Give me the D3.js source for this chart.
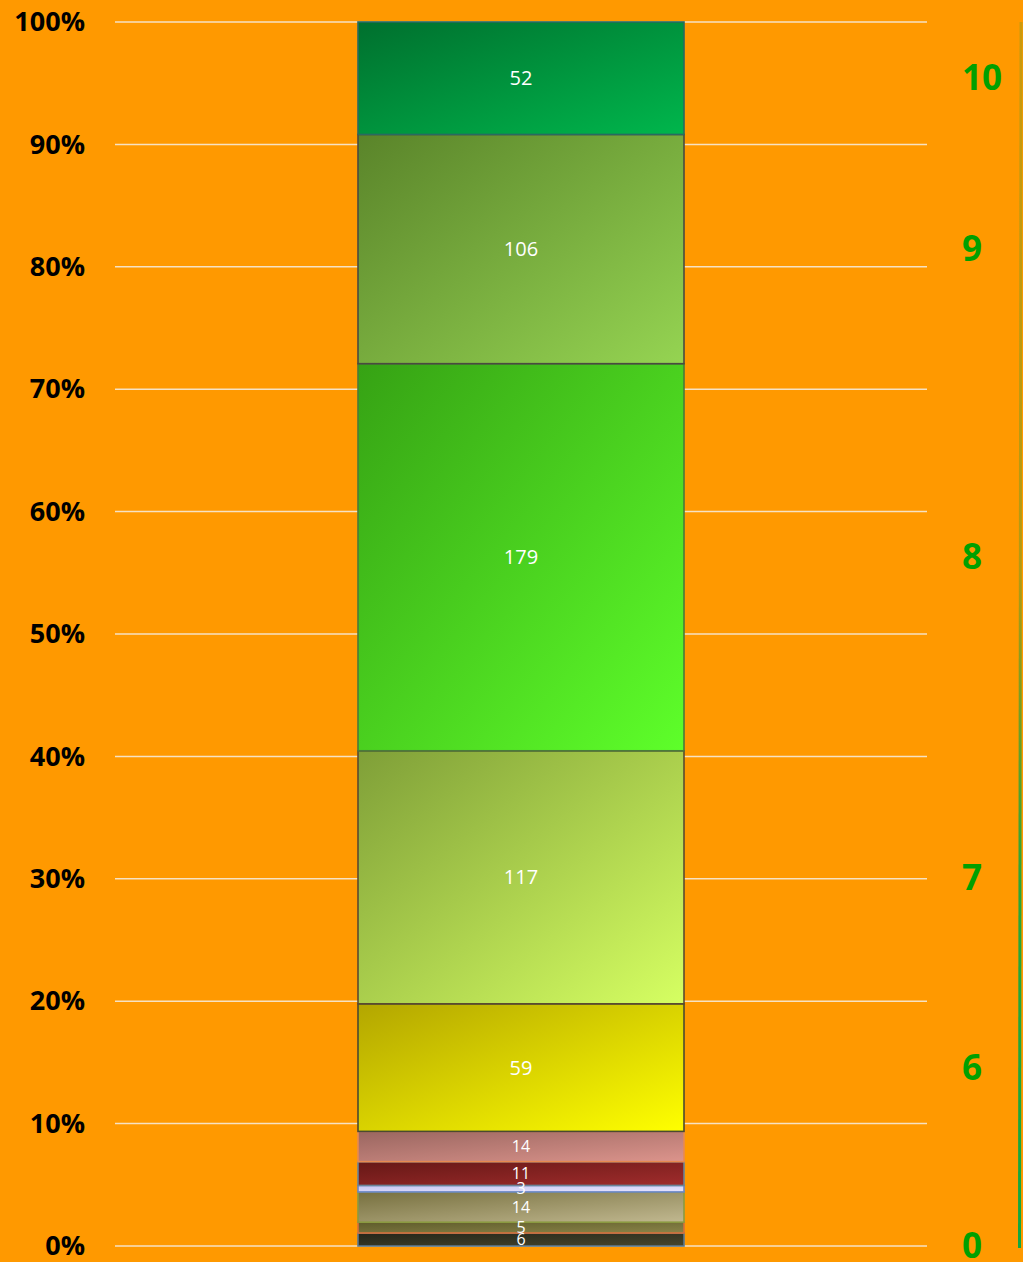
<!DOCTYPE html>
<html>
<head>
<meta charset="utf-8">
<style>
  html, body { margin: 0; padding: 0; background: #ff9900; }
  svg { display: block; }
</style>
</head>
<body>
<div id="chart"></div>
<script src="https://d3js.org/d3.v7.min.js"></script>
<script>
// scores from bottom (0) to top (10) and how many answers each got
var scores = ["0", "1", "2", "3", "4", "5", "6", "7", "8", "9", "10"];
var counts = [6, 5, 14, 3, 11, 14, 59, 117, 179, 106, 52];
// only some scores are named on the right side
var rightLabels = ["0", "", "", "", "", "", "6", "7", "8", "9", "10"];
var pctTicks = [0, 0.1, 0.2, 0.3, 0.4, 0.5, 0.6, 0.7, 0.8, 0.9, 1];

// segment colours: gradient start (top-left) / end (bottom-right) / border
var colDark = ["#25261a", "#5f5c2c", "#77703f", "#c9c6f0", "#661816", "#9a6660", "#b3a600", "#7f9f38", "#36a214", "#5a842a", "#00702e"];
var colLight = ["#46452c", "#8a8448", "#c1b890", "#e6e4ff", "#a02c2c", "#dc948c", "#ffff00", "#d6ff62", "#5eff2a", "#95d452", "#00b64c"];
var colStroke = ["#5a7890", "#d8703a", "#8a9a40", "#6a86c8", "#6a8498", "#e88a50", "#4a4a30", "#5a4a30", "#4a7a3a", "#4a4a40", "#2a6a60"];

var W = 1023, H = 1262;
var barLeft = 358, barRight = 684;

var svg = d3.select("#chart").append("svg")
  .attr("width", W)
  .attr("height", H);

svg.append("rect")
  .attr("width", W)
  .attr("height", H)
  .attr("fill", "#ff9900");

var total = d3.sum(counts);
var y = d3.scaleLinear().domain([0, 1]).range([1246, 22]);

// stacked data
var acc = 0;
var data = counts.map(function(c, i) {
  var d = { score: scores[i], count: c, y0: acc / total, y1: (acc + c) / total, label: rightLabels[i], i: i };
  acc += c;
  return d;
});

// gradients
var defs = svg.append("defs");
data.forEach(function(d) {
  var g = defs.append("linearGradient")
    .attr("id", "grad" + d.i)
    .attr("x1", 0).attr("y1", 0)
    .attr("x2", 1).attr("y2", 1);
  g.append("stop").attr("offset", "0%").attr("stop-color", colDark[d.i]);
  g.append("stop").attr("offset", "100%").attr("stop-color", colLight[d.i]);
});

var lineGrad = defs.append("linearGradient")
  .attr("id", "edgeLine")
  .attr("x1", 0).attr("y1", 0)
  .attr("x2", 0).attr("y2", 1);
lineGrad.append("stop").attr("offset", "0%").attr("stop-color", "#00a040").attr("stop-opacity", 0.2);
lineGrad.append("stop").attr("offset", "45%").attr("stop-color", "#00a040").attr("stop-opacity", 0.3);
lineGrad.append("stop").attr("offset", "70%").attr("stop-color", "#10a840").attr("stop-opacity", 0.9);
lineGrad.append("stop").attr("offset", "100%").attr("stop-color", "#10a840").attr("stop-opacity", 1);

defs.append("clipPath").attr("id", "rightClip")
  .append("rect").attr("x", 930).attr("y", 0).attr("width", 78).attr("height", H);

// gridlines
svg.append("g")
  .selectAll("line")
  .data(pctTicks)
  .enter().append("line")
  .attr("x1", 115)
  .attr("x2", 927)
  .attr("y1", function(d) { return y(d); })
  .attr("y2", function(d) { return y(d); })
  .attr("stroke", "#f6e2c4")
  .attr("stroke-width", 1.5);

// left axis labels
var yAxis = d3.axisLeft(y)
  .tickValues(pctTicks)
  .tickFormat(d3.format(".0%"))
  .tickSize(0)
  .tickPadding(0);

var ax = svg.append("g")
  .attr("transform", "translate(85,0)")
  .call(yAxis);
ax.select(".domain").remove();
ax.selectAll("text")
  .attr("fill", "#000")
  .style("font-family", "'Open Sans', 'Liberation Sans', sans-serif")
  .style("font-weight", "bold")
  .style("font-size", "27px");

// bar segments
var segs = svg.append("g");
segs.selectAll("rect")
  .data(data)
  .enter().append("rect")
  .attr("x", barLeft)
  .attr("width", barRight - barLeft)
  .attr("y", function(d) { return y(d.y1); })
  .attr("height", function(d) { return y(d.y0) - y(d.y1); })
  .attr("fill", function(d) { return "url(#grad" + d.i + ")"; })
  .attr("stroke", function(d) { return colStroke[d.i]; })
  .attr("stroke-width", 1.6);

// value labels in the bar
segs.selectAll("text")
  .data(data)
  .enter().append("text")
  .attr("x", (barLeft + barRight) / 2)
  .attr("y", function(d) { return (y(d.y0) + y(d.y1)) / 2; })
  .attr("dy", "0.35em")
  .attr("text-anchor", "middle")
  .attr("fill", "#fff")
  .style("font-family", "'Open Sans', 'Noto Sans', sans-serif")
  .style("font-size", function(d) { return d.count > 20 ? "20px" : "16px"; })
  .text(function(d) { return d.count; });

// score labels on the right
svg.append("g")
  .attr("clip-path", "url(#rightClip)")
  .selectAll("text")
  .data(data.filter(function(d) { return d.label !== ""; }))
  .enter().append("text")
  .attr("x", 962)
  .attr("y", function(d) { return d.y0 === 0 ? y(0) : (y(d.y0) + y(d.y1)) / 2; })
  .attr("dy", "0.35em")
  .attr("fill", "#00a000")
  .style("font-family", "'Open Sans', 'Noto Sans', sans-serif")
  .style("font-weight", "bold")
  .style("font-size", "35px")
  .text(function(d) { return d.label; });

// thin green line at the right edge
svg.append("line")
  .attr("x1", 1021).attr("y1", 22)
  .attr("x2", 1019.5).attr("y2", 1248)
  .attr("stroke", "url(#edgeLine)")
  .attr("stroke-width", 3);
</script>
</body>
</html>
